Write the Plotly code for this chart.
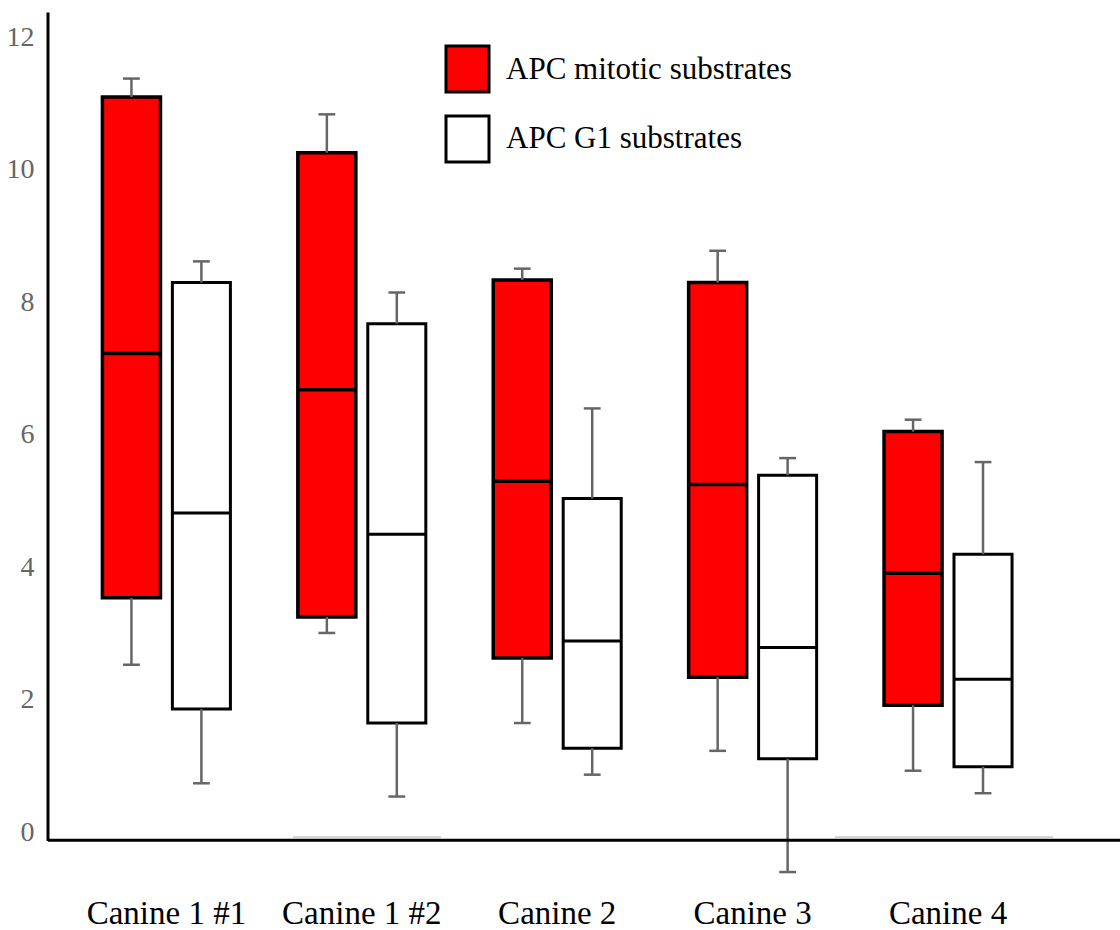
import plotly.graph_objects as go

categories = ["Canine 1 #1", "Canine 1 #2", "Canine 2", "Canine 3", "Canine 4"]

# APC mitotic substrates (red)
mit_lower = [2.51, 2.99, 1.63, 1.21, 0.91]
mit_q1 = [3.52, 3.23, 2.61, 2.32, 1.90]
mit_median = [7.21, 6.66, 5.28, 5.23, 3.89]
mit_q3 = [11.08, 10.24, 8.32, 8.28, 6.03]
mit_upper = [11.36, 10.82, 8.49, 8.76, 6.21]

# APC G1 substrates (white)
g1_lower = [0.72, 0.52, 0.85, -0.62, 0.57]
g1_q1 = [1.84, 1.63, 1.25, 1.09, 0.97]
g1_median = [4.80, 4.48, 2.87, 2.77, 2.29]
g1_q3 = [8.28, 7.66, 5.02, 5.37, 4.18]
g1_upper = [8.60, 8.13, 6.38, 5.63, 5.57]

y_ticks = [0, 2, 4, 6, 8, 10, 12]

W, H = 1120, 930
ML, MR, MT, MB = 48, 0, 13, 50
OFF = 0.179
BW = 0.297
FONT = "Liberation Serif, Times New Roman, Times, serif"
WHISK = "#666666"

idx = list(range(len(categories)))
x_mit = [i - OFF for i in idx]
x_g1 = [i + OFF for i in idx]

fig = go.Figure()


def whiskers(xs, q1, q3, lo, hi):
    lx, ly = [], []
    for x, a, b, c, d in zip(xs, q1, q3, lo, hi):
        lx += [x, x, None, x, x, None]
        ly += [b, d, None, a, c, None]
    fig.add_trace(go.Scatter(
        x=lx, y=ly, mode="lines", line=dict(color=WHISK, width=2.5),
        showlegend=False, hoverinfo="skip", cliponaxis=False))
    fig.add_trace(go.Scatter(
        x=list(xs) + list(xs), y=list(hi) + list(lo), mode="markers",
        marker=dict(symbol="line-ew", size=12,
                    line=dict(color=WHISK, width=2.5)),
        showlegend=False, hoverinfo="skip", cliponaxis=False))


fig.add_trace(go.Box(
    name="APC mitotic substrates", x=x_mit,
    q1=mit_q1, median=mit_median, q3=mit_q3,
    lowerfence=mit_q1, upperfence=mit_q3,
    width=BW, fillcolor="#ff0000", line=dict(color="black", width=3.5),
    whiskerwidth=0, boxpoints=False, showlegend=False))
fig.add_trace(go.Box(
    name="APC G1 substrates", x=x_g1,
    q1=g1_q1, median=g1_median, q3=g1_q3,
    lowerfence=g1_q1, upperfence=g1_q3,
    width=BW, fillcolor="white", line=dict(color="black", width=3),
    whiskerwidth=0, boxpoints=False, showlegend=False))

whiskers(x_mit, mit_q1, mit_q3, mit_lower, mit_upper)
whiskers(x_g1, g1_q1, g1_q3, g1_lower, g1_upper)

plot_w = W - ML - MR
plot_h = H - MT - MB


def px_x(px):
    return (px - ML) / plot_w


def px_y(py):
    return (H - MB - py) / plot_h


shapes = [
    dict(type="line", xref="paper", yref="y", x0=0, x1=1, y0=-0.14, y1=-0.14,
         line=dict(color="black", width=3)),
    dict(type="line", xref="paper", yref="paper", x0=0, x1=0,
         y0=px_y(841), y1=px_y(12.5), line=dict(color="black", width=3)),
    dict(type="line", xref="paper", yref="paper", x0=px_x(293), x1=px_x(441),
         y0=px_y(837), y1=px_y(837), line=dict(color="#aaaaaa", width=1)),
    dict(type="line", xref="paper", yref="paper", x0=px_x(835), x1=px_x(1053),
         y0=px_y(837), y1=px_y(837), line=dict(color="#aaaaaa", width=1)),
    dict(type="rect", xref="paper", yref="paper", x0=px_x(446), x1=px_x(489),
         y0=px_y(92), y1=px_y(46), fillcolor="#ff0000",
         line=dict(color="black", width=3)),
    dict(type="rect", xref="paper", yref="paper", x0=px_x(446), x1=px_x(489),
         y0=px_y(162), y1=px_y(116), fillcolor="white",
         line=dict(color="black", width=3)),
]

annotations = [
    dict(text="APC mitotic substrates", xref="paper", yref="paper",
         x=px_x(504), y=px_y(68), xanchor="left", yanchor="middle",
         showarrow=False, font=dict(family=FONT, size=31, color="black")),
    dict(text="APC G1 substrates", xref="paper", yref="paper",
         x=px_x(504), y=px_y(138), xanchor="left", yanchor="middle",
         showarrow=False, font=dict(family=FONT, size=31, color="black")),
]

fig.update_layout(
    width=W, height=H,
    margin=dict(l=ML, r=MR, t=MT, b=MB, pad=0, autoexpand=False),
    paper_bgcolor="white", plot_bgcolor="white",
    showlegend=False,
    shapes=shapes, annotations=annotations,
    xaxis=dict(range=[-0.606, 4.880], tickmode="array", tickvals=idx,
               ticktext=categories, showgrid=False, zeroline=False,
               showline=False, ticks="outside", ticklen=3, automargin=False,
               tickcolor="rgba(0,0,0,0)",
               tickfont=dict(family=FONT, size=33, color="black")),
    yaxis=dict(range=[-0.74, 12.35], tickmode="array", tickvals=y_ticks,
               showgrid=False, zeroline=False, showline=False, automargin=False,
               ticks="outside", ticklen=7, tickcolor="rgba(0,0,0,0)",
               tickfont=dict(family=FONT, size=28, color="#666666")),
)

fig.write_html(
    "out.html",
    config={"displayModeBar": False},
    post_script="document.body.style.margin='0';document.body.style.overflow='hidden';",
)
